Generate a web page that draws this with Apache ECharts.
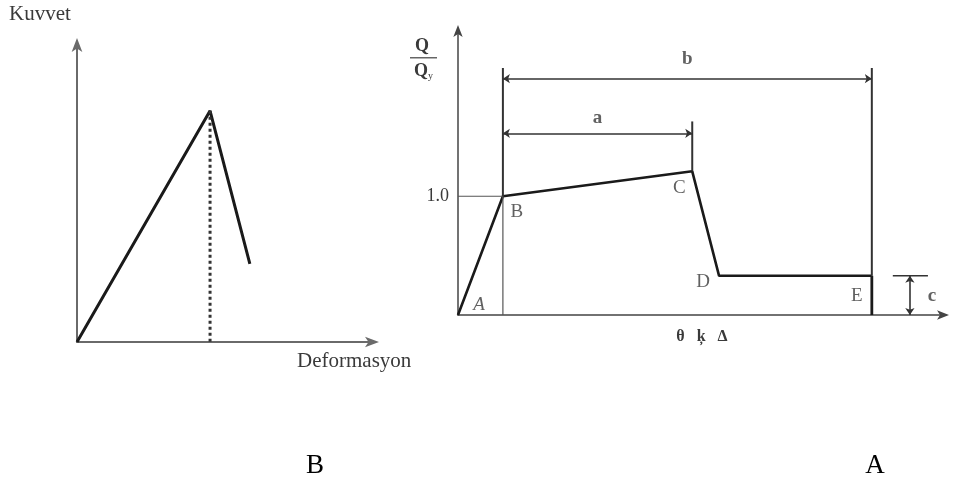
<!DOCTYPE html>
<html><head><meta charset="utf-8">
<script src="https://cdn.jsdelivr.net/npm/echarts@6/dist/echarts.min.js"></script>
<style>html,body{margin:0;padding:0;background:#fff}#c{width:953px;height:479px}</style>
</head><body><div id="c"></div>
<script>
// ---- Left chart (B): Kuvvet - Deformasyon ----
const leftX = [0, 4.48, 5.82];
const leftY = [0, 7.73, 2.61];
// ---- Right chart (A): Q/Qy vs θ / Δ, points A..E ----
const pointNames = ['A', 'B', 'C', 'D', 'E'];
const pointX = [0, 0.92, 4.80, 5.35, 8.48];
const pointY = [0, 1.0, 1.21, 0.33, 0.33];
const yTickValues = [1.0];
const refTop = 2.08;          // top of the B / E reference lines
const dimBLevel = 1.99;       // "b" dimension line
const dimALevel = 1.53;       // "a" dimension line
const dimATop = 1.63;         // top of C reference line
const cBracketX = [8.91, 9.26, 9.63];
const dimNames = ['a', 'b', 'c'];

const SERIF = 'Liberation Serif, Times New Roman, serif';
const INK = '#1a1a1a', THIN = '#555', AX = '#6a6a6a', TXT = '#3a3a3a';
const zip = (xs, ys) => xs.map((x, i) => [x, ys[i]]);

const chart = echarts.init(document.getElementById('c'), null, {renderer: 'canvas'});

function seg(data, ax, width, color, type) {
  return {type: 'line', xAxisIndex: ax, yAxisIndex: ax, data, symbol: 'none', silent: true,
    lineStyle: {width, color, type: type || 'solid', cap: 'butt'}, z: 3, animation: false};
}

const pts = zip(pointX, pointY);
const labelOffsets = [[21, -10], [14, 16], [-13, 17], [-16, 6], [-15, 20]];

const option = {
  animation: false,
  backgroundColor: '#fff',
  grid: [
    {left: 77, right: 953 - 374, top: 43, bottom: 479 - 342},
    {left: 458, right: 7, top: 30, bottom: 479 - 315}
  ],
  xAxis: [
    {gridIndex: 0, type: 'value', min: 0, max: 10,
      axisLine: {lineStyle: {color: AX, width: 2}, symbol: ['none', 'arrow'], symbolSize: [8, 14], symbolOffset: [0, 5]},
      axisTick: {show: false}, axisLabel: {show: false}, splitLine: {show: false}},
    {gridIndex: 1, type: 'value', min: 0, max: 10,
      axisLine: {lineStyle: {color: '#444', width: 1.5}, symbol: ['none', 'arrow'], symbolSize: [7, 12], symbolOffset: [0, 3]},
      axisTick: {show: false}, axisLabel: {show: false}, splitLine: {show: false},
      name: 'θ   ķ   Δ', nameLocation: 'middle', nameGap: 14,
      nameTextStyle: {fontFamily: SERIF, fontSize: 16, color: TXT, fontWeight: 'bold'}}
  ],
  yAxis: [
    {gridIndex: 0, type: 'value', min: 0, max: 10,
      axisLine: {show: true, lineStyle: {color: AX, width: 2}, symbol: ['none', 'arrow'], symbolSize: [8, 14], symbolOffset: [0, 5]},
      axisTick: {show: false}, axisLabel: {show: false}, splitLine: {show: false}},
    {gridIndex: 1, type: 'value', min: 0, max: 2.4, interval: 1,
      axisLine: {show: true, lineStyle: {color: '#444', width: 1.5}, symbol: ['none', 'arrow'], symbolSize: [7, 12], symbolOffset: [0, 5]},
      axisTick: {show: false}, splitLine: {show: false},
      axisLabel: {margin: 9, fontFamily: SERIF, fontSize: 18, color: TXT, showMaxLabel: false,
        formatter: v => (yTickValues.indexOf(v) >= 0 ? v.toFixed(1) : '')}}
  ],
  series: [
    // left chart
    seg(zip(leftX, leftY), 0, 3, INK),
    seg([[leftX[1], leftY[1]], [leftX[1], 0]], 0, 3, '#333', [3, 3]),
    // right chart main curve A-B-C-D-E
    seg(pts, 1, 2.6, INK),
    // yield reference lines
    seg([[0, pointY[1]], [pointX[1], pointY[1]]], 1, 1.2, THIN),
    seg([[pointX[1], 0], [pointX[1], pointY[1]]], 1, 1.2, THIN),
    seg([[pointX[1], pointY[1]], [pointX[1], refTop]], 1, 2, '#333'),
    seg([[pointX[2], pointY[2]], [pointX[2], dimATop]], 1, 2, '#333'),
    seg([[pointX[4], 0], [pointX[4], pointY[4]]], 1, 2.8, INK),
    seg([[pointX[4], pointY[4]], [pointX[4], refTop]], 1, 2, '#333'),
    seg([[cBracketX[0], pointY[3]], [cBracketX[2], pointY[3]]], 1, 1.6, '#333'),
    // dimension arrows
    {type: 'lines', coordinateSystem: 'cartesian2d', xAxisIndex: 1, yAxisIndex: 1, silent: true,
      symbol: ['arrow', 'arrow'], symbolSize: 7, z: 4,
      lineStyle: {color: '#333', width: 1.6, opacity: 1},
      data: [
        {coords: [[pointX[1], dimBLevel], [pointX[4], dimBLevel]]},
        {coords: [[pointX[1], dimALevel], [pointX[2], dimALevel]]},
        {coords: [[cBracketX[1], pointY[3]], [cBracketX[1], 0]]}
      ]},
    // point labels
    {type: 'scatter', xAxisIndex: 1, yAxisIndex: 1, symbolSize: 0, silent: true, z: 5,
      data: pts.map((p, i) => ({value: p, name: pointNames[i],
        label: {show: true, formatter: pointNames[i], position: 'inside', offset: labelOffsets[i],
          fontFamily: SERIF, fontSize: 19, color: TXT, fontStyle: i === 0 ? 'italic' : 'normal'}}))},
    // dimension labels
    {type: 'scatter', xAxisIndex: 1, yAxisIndex: 1, symbolSize: 0, silent: true, z: 5,
      data: [
        {value: [(pointX[1] + pointX[2]) / 2, dimALevel], label: {formatter: dimNames[0], offset: [0, -15]}},
        {value: [(pointX[1] + pointX[4]) / 2, dimBLevel], label: {formatter: dimNames[1], offset: [0, -20]}},
        {value: [cBracketX[1], pointY[3] / 2], label: {formatter: dimNames[2], offset: [22, 1]}}
      ],
      label: {show: true, position: 'inside', fontFamily: SERIF, fontSize: 19, color: TXT, fontWeight: 'bold'}}
  ],
  graphic: [
    {type: 'text', left: 9, top: 4, style: {text: 'Kuvvet', font: '21px ' + SERIF, fill: TXT}},
    {type: 'text', left: 297, top: 351, style: {text: 'Deformasyon', font: '21px ' + SERIF, fill: TXT}},
    {type: 'text', left: 415, top: 37, style: {text: 'Q', font: 'bold 18px ' + SERIF, fill: TXT}},
    {type: 'rect', shape: {x: 410, y: 57, width: 27, height: 1.5}, style: {fill: '#666'}},
    {type: 'text', left: 414, top: 62, style: {
      text: '{q|Q}{s|y}', rich: {q: {font: 'bold 18px ' + SERIF, fill: TXT}, s: {font: '10px ' + SERIF, fill: TXT, padding: [10, 0, 0, 0]}}}},
    {type: 'text', x: 315, y: 466, style: {text: 'B', font: '27px ' + SERIF, fill: '#000', align: 'center', verticalAlign: 'middle'}},
    {type: 'text', x: 875, y: 466, style: {text: 'A', font: '27px ' + SERIF, fill: '#000', align: 'center', verticalAlign: 'middle'}}
  ]
};
chart.setOption(option);
</script>
</body></html>
